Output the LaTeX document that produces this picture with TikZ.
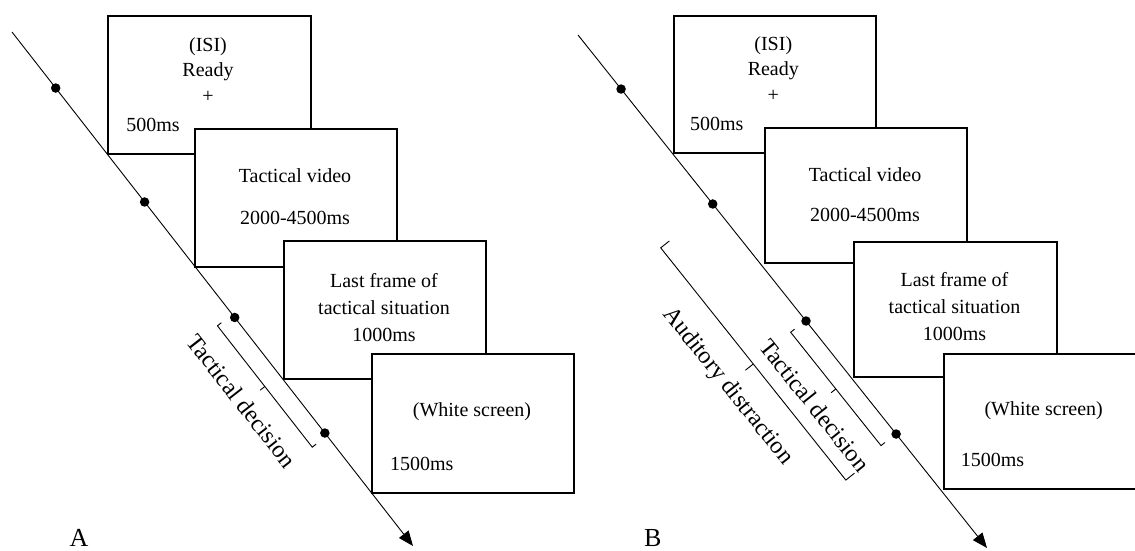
\documentclass[tikz,border=0pt]{standalone}
\usepackage{fontspec}
\setmainfont{Liberation Serif}
\usetikzlibrary{calc,arrows.meta}
\begin{document}
\begin{tikzpicture}[x=1pt,y=-1pt,
  box/.style={draw=black, line width=2pt, fill=white, inner sep=0pt, anchor=north west},
  txt/.style={font=\fontsize{20}{24}\selectfont, inner sep=0pt, anchor=base},
  lbl/.style={font=\fontsize{24}{28}\selectfont, inner sep=0pt, transform shape},
  big/.style={font=\fontsize{26}{30}\selectfont, inner sep=0pt, anchor=base},
  tl/.style={line width=0.9pt, -{Triangle[length=15pt,width=12pt]}},
  brk/.style={line width=0.9pt},
  dot/.style={circle, fill=black, inner sep=0pt, minimum size=9.5pt}]
\useasboundingbox (0,0) rectangle (1135,550);
\clip (0,0) rectangle (1135,550);

% ---------------- Panel A ----------------
\coordinate (As) at (12,32);
\coordinate (Ae) at (413,546);
\draw[tl] (As) -- (Ae);

\node[box, minimum width=203pt, minimum height=138pt] (A1) at (107,15) {};
\node[box, minimum width=202pt, minimum height=138pt] (A2) at (194,128) {};
\node[box, minimum width=202pt, minimum height=138pt] (A3) at (283,240) {};
\node[box, minimum width=202pt, minimum height=139pt] (A4) at (371,353) {};

\node[txt] (A1a) at (208,51.5) {(ISI)};
\node[txt] (A1b) at (208,76) {Ready};
\node[txt] (A1c) at (208,102.5) {+};
\node[txt] (A1d) at (153,131) {500ms};
\node[txt] (A2a) at (295,182.3) {Tactical video};
\node[txt] (A2b) at (295,224) {2000-4500ms};
\node[txt] (A3a) at (384,287.3) {Last frame of};
\node[txt] (A3b) at (384,314) {tactical situation};
\node[txt] (A3c) at (384,341.7) {1000ms};
\node[txt] (A4a) at (472,416.7) {(White screen)};
\node[txt] (A4b) at (421.7,470) {1500ms};

\node[dot] (Ad1) at ($(As)!0.109!(Ae)$) {};
\node[dot] (Ad2) at ($(As)!0.3307!(Ae)$) {};
\node[dot] (Ad3) at ($(As)!0.5554!(Ae)$) {};
\node[dot] (Ad4) at ($(As)!0.7802!(Ae)$) {};

\begin{scope}[shift={(12,32)}, rotate=-52]
  \draw[brk] (358,14) -- (358,19) -- (512,19) -- (512,14);
  \draw[brk] (435,19) -- (435,25);
  \node[lbl] (Atd) at (432,46) {Tactical decision};
\end{scope}

\node[big] (Alab) at (79,546) {A};

% ---------------- Panel B ----------------
\coordinate (Bs) at (578,35);
\coordinate (Be) at (987,548);
\draw[tl] (Bs) -- (Be);

\node[box, minimum width=202pt, minimum height=137pt] (B1) at (673,15) {};
\node[box, minimum width=202pt, minimum height=135pt] (B2) at (764,127) {};
\node[box, minimum width=203pt, minimum height=135pt] (B3) at (853,241) {};
\node[box, minimum width=202pt, minimum height=135pt] (B4) at (943,353) {};

\node[txt] (B1a) at (773.3,50.7) {(ISI)};
\node[txt] (B1b) at (773.3,75) {Ready};
\node[txt] (B1c) at (773.3,101.5) {+};
\node[txt] (B1d) at (716.7,130) {500ms};
\node[txt] (B2a) at (865,181) {Tactical video};
\node[txt] (B2b) at (865,221) {2000-4500ms};
\node[txt] (B3a) at (954.5,286.7) {Last frame of};
\node[txt] (B3b) at (954.5,313.3) {tactical situation};
\node[txt] (B3c) at (954.5,340) {1000ms};
\node[txt] (B4a) at (1043.7,415) {(White screen)};
\node[txt] (B4b) at (992.5,466.7) {1500ms};

\node[dot] (Bd1) at ($(Bs)!0.1053!(Be)$) {};
\node[dot] (Bd2) at ($(Bs)!0.3294!(Be)$) {};
\node[dot] (Bd3) at ($(Bs)!0.5575!(Be)$) {};
\node[dot] (Bd4) at ($(Bs)!0.7778!(Be)$) {};

\begin{scope}[shift={(578,35)}, rotate=-51.44]
  \draw[brk] (365,14) -- (365,19) -- (510,19) -- (510,14);
  \draw[brk] (437.5,19) -- (437.5,25);
  \node[lbl] (Btd) at (437,45.5) {Tactical decision};
  \draw[brk] (218,57) -- (218,68) -- (515,68) -- (515,57);
  \draw[brk] (366.5,68) -- (366.5,78);
  \node[lbl] (Bad) at (368,102) {Auditory distraction};
\end{scope}

\node[big] (Blab) at (652.7,546) {B};
\end{tikzpicture}
\end{document}
